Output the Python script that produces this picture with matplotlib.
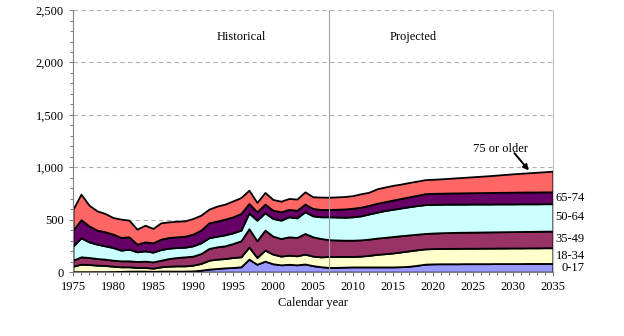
import numpy as np
import matplotlib.pyplot as plt
from matplotlib.ticker import MultipleLocator, FuncFormatter

years = list(range(1975, 2036))

# thousands, by age group (bottom to top)
age_0_17 = [5, 5, 5, 5, 5, 6, 8, 10, 10, 10, 8, 10, 10, 10, 10, 12, 19, 29, 35, 41,
            45, 51, 124, 75, 105, 80, 70, 75, 70, 78, 62, 52, 45, 46, 48, 50, 50, 50, 50, 50,
            50, 52, 56, 65, 76, 79, 80, 80, 80, 81, 81, 81, 81, 82, 82, 82, 82, 83, 83, 83, 83]
age_18_34 = [52, 71, 68, 62, 59, 51, 43, 41, 35, 35, 30, 41, 47, 50, 50, 55, 64, 85, 89, 89,
             95, 95, 115, 65, 105, 92, 83, 87, 86, 94, 91, 94, 105, 104, 102, 100, 103, 110, 120, 126,
             133, 141, 147, 148, 146, 146, 146, 147, 147, 147, 147, 148, 148, 148, 148, 149, 149, 149, 149, 150, 150]
age_35_49 = [57, 70, 67, 63, 60, 57, 57, 57, 57, 60, 60, 63, 73, 80, 86, 86, 95, 112, 118, 121,
             133, 153, 175, 159, 191, 171, 168, 175, 175, 197, 184, 175, 160, 157, 155, 155, 155, 155, 155, 156,
             157, 155, 152, 149, 147, 148, 150, 151, 153, 153, 154, 154, 155, 155, 156, 156, 157, 157, 158, 158, 159]
age_50_64 = [134, 182, 149, 137, 127, 121, 102, 111, 92, 98, 93, 102, 99, 95, 92, 98, 102, 102, 101, 105,
             102, 102, 150, 197, 165, 169, 175, 191, 187, 207, 200, 207, 218, 219, 219, 223, 229, 240, 247, 256,
             260, 264, 269, 273, 275, 274, 272, 271, 269, 268, 268, 267, 266, 266, 265, 264, 264, 263, 262, 262, 261]
age_65_74 = [153, 172, 153, 134, 134, 128, 121, 118, 73, 86, 89, 99, 102, 102, 105, 112, 121, 143, 144, 150,
             153, 159, 91, 80, 83, 79, 80, 70, 73, 73, 70, 70, 70, 74, 79, 82, 83, 82, 85, 84,
             88, 91, 94, 98, 104, 105, 105, 106, 107, 108, 108, 109, 110, 110, 111, 112, 112, 113, 113, 113, 113]
age_75_up = [200, 244, 197, 184, 175, 158, 175, 159, 143, 159, 137, 156, 149, 149, 147, 149, 143, 130, 143, 143,
             152, 152, 127, 89, 111, 102, 101, 105, 106, 117, 112, 118, 117, 118, 119, 120, 128, 125, 138, 140,
             140, 137, 137, 135, 134, 134, 137, 140, 144, 148, 152, 156, 160, 165, 170, 175, 179, 183, 188, 192, 198]

labels = ['0-17', '18-34', '35-49', '50-64', '65-74', '75 or older']
colors = ['#9999FF', '#FFFFCC', '#993366', '#CCFFFF', '#660066', '#FF6666']

plt.rcParams['font.family'] = ['Liberation Serif', 'DejaVu Serif']

fig = plt.figure(figsize=(6.24, 3.36), dpi=100)
ax = fig.add_axes([0.117, 0.19, 0.769, 0.78])

ax.stackplot(years, age_0_17, age_18_34, age_35_49, age_50_64, age_65_74, age_75_up,
             colors=colors, edgecolor='black', linewidth=1.3)

ax.set_xlim(1975, 2035)
ax.set_ylim(0, 2500)
ax.xaxis.set_major_locator(MultipleLocator(5))
ax.xaxis.set_minor_locator(MultipleLocator(1))
ax.yaxis.set_major_locator(MultipleLocator(500))
ax.yaxis.set_minor_locator(MultipleLocator(100))
ax.yaxis.set_major_formatter(FuncFormatter(lambda v, p: f'{int(v):,}'))
ax.tick_params(axis='both', which='major', labelsize=9, length=3, width=0.8, color='#808080')
ax.tick_params(axis='both', which='minor', length=2, width=0.8, color='#808080')

for y in range(500, 2501, 500):
    ax.axhline(y, color='#b0b0b0', linestyle=(0, (4, 3)), linewidth=0.8, zorder=0)
ax.axvline(2007, color='#a0a0a0', linewidth=0.8, zorder=3)

ax.spines['top'].set_visible(False)
ax.spines['right'].set_color('#c0c0c0')
ax.spines['left'].set_color('#808080')
ax.spines['bottom'].set_color('#808080')

ax.set_xlabel('Calendar year', fontsize=9, labelpad=3)

ax.text(1996.1, 2240, 'Historical', ha='center', va='center', fontsize=9)
ax.text(2017.6, 2240, 'Projected', ha='center', va='center', fontsize=9)

# right side labels, at the middle of each band in 2035
cum = np.cumsum([age_0_17[-1], age_18_34[-1], age_35_49[-1], age_50_64[-1], age_65_74[-1]])
bottoms = np.concatenate([[0], cum[:-1]])
for lab, lo, hi in zip(labels[:5], bottoms, cum):
    ax.annotate(lab, xy=(1.0, (lo + hi) / 2), xycoords=('axes fraction', 'data'),
                xytext=(23, 0), textcoords='offset points', ha='right', va='center',
                fontsize=9, annotation_clip=False)

ax.text(2028.4, 1175, '75 or older', ha='center', va='center', fontsize=9)
ax.annotate('', xy=(2032.0, 970), xytext=(2030.2, 1135),
            arrowprops=dict(arrowstyle='-|>', color='black', lw=1.4, mutation_scale=8,
                            shrinkA=0, shrinkB=0))

fig.savefig('out.png', dpi=100)
